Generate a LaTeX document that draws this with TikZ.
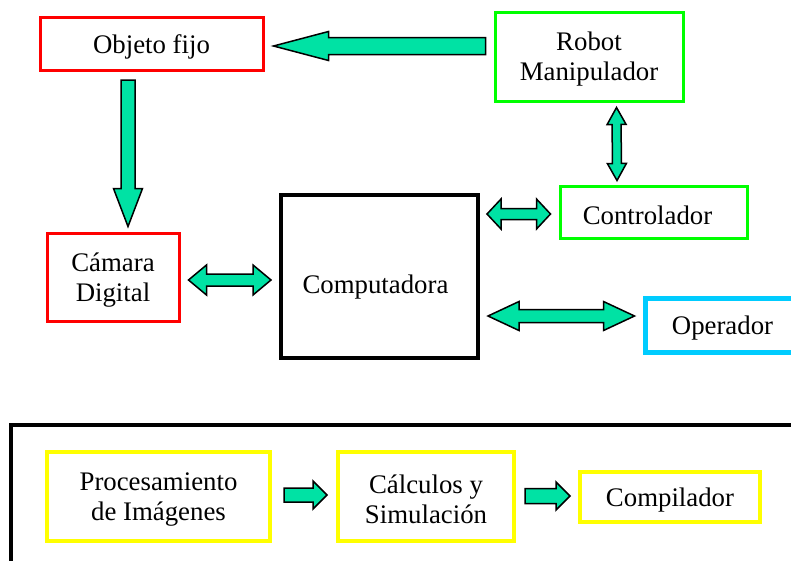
\documentclass[tikz,border=0pt]{standalone}
\usepackage{fontspec}
\setmainfont{Liberation Serif}
\usetikzlibrary{calc}
\definecolor{arrfill}{RGB}{0,226,164}
\definecolor{bred}{RGB}{255,0,0}
\definecolor{bgreen}{RGB}{0,255,0}
\definecolor{bcyan}{RGB}{0,204,255}
\definecolor{byellow}{RGB}{255,255,0}
\tikzset{
  txt/.style={inner sep=0pt, align=center, font=\fontsize{26.8}{30}\selectfont},
  box/.style={draw, rectangle, inner sep=0pt},
  redbox/.style={box, draw=bred, line width=3pt},
  greenbox/.style={box, draw=bgreen, line width=3pt},
  cyanbox/.style={box, draw=bcyan, line width=5pt},
  yellowbox/.style={box, draw=byellow, line width=4pt},
  blackbox/.style={box, draw=black, line width=4pt},
  blk/.style={fill=arrfill, draw=black, line width=1.5pt, line join=miter}
}
% single block arrow: #1 tail, #2 tip, #3 shaft half width, #4 head half width, #5 head length
\newcommand\sblkarrow[5]{%
  \coordinate (hb) at ($(#2)!#5!(#1)$);
  \filldraw[blk] ($(#1)!#3!90:(#2)$) -- ($(hb)!#3!90:(#2)$) -- ($(hb)!#4!90:(#2)$) -- (#2)
    -- ($(hb)!#4!-90:(#2)$) -- ($(hb)!#3!-90:(#2)$) -- ($(#1)!#3!-90:(#2)$) -- cycle;
}
% double block arrow
\newcommand\dblkarrow[5]{%
  \coordinate (ha) at ($(#1)!#5!(#2)$);
  \coordinate (hb) at ($(#2)!#5!(#1)$);
  \filldraw[blk] (#1) -- ($(ha)!#4!90:(#2)$) -- ($(ha)!#3!90:(#2)$) -- ($(hb)!#3!90:(#2)$)
    -- ($(hb)!#4!90:(#2)$) -- (#2) -- ($(hb)!#4!-90:(#2)$) -- ($(hb)!#3!-90:(#2)$)
    -- ($(ha)!#3!-90:(#2)$) -- ($(ha)!#4!-90:(#2)$) -- cycle;
}
\begin{document}
\begin{tikzpicture}[x=1pt,y=-1pt]
\clip (0,0) rectangle (791,560);
\fill[white] (0,0) rectangle (791,560);

% top part
\node[redbox, minimum width=223pt, minimum height=53pt,
  label={[txt,yshift=-3pt]center:Objeto fijo}] (objeto) at (151.5,43.5) {};
\node[greenbox, minimum width=188pt, minimum height=89pt,
  label={[txt,yshift=-3pt]center:{Robot\\Manipulador}}] (robot) at (589,56.5) {};
\node[redbox, minimum width=132pt, minimum height=88pt,
  label={[txt,yshift=-3pt]center:{Cámara\\Digital}}] (camara) at (113,277) {};
\node[blackbox, minimum width=197pt, minimum height=163pt,
  label={[txt,xshift=-4pt,yshift=-11pt]center:Computadora}] (comp) at (379.5,276.5) {};
\node[greenbox, minimum width=187pt, minimum height=52pt,
  label={[txt,xshift=-6pt,yshift=-3pt]center:Controlador}] (contr) at (653.5,212) {};
\node[cyanbox, minimum width=155pt, minimum height=54pt,
  label={[txt,yshift=-3pt]center:Operador}] (oper) at (722.5,325) {};

% bottom part
\draw[black, line width=4pt] (11,425) rectangle (810,580);
\node[yellowbox, minimum width=223pt, minimum height=89pt,
  label={[txt,yshift=-3pt]center:{Procesamiento\\de Imágenes}}] (proc) at (158.5,496.5) {};
\node[yellowbox, minimum width=176pt, minimum height=89pt,
  label={[txt,yshift=-3pt]center:{Cálculos y\\Simulación}}] (calc) at (426,496.5) {};
\node[yellowbox, minimum width=180pt, minimum height=50pt,
  label={[txt,yshift=-3pt]center:Compilador}] (compil) at (670,497) {};

% arrow end points
\coordinate (a1t) at ($(robot.west)+(-8,-10.5)$);
\coordinate (a1h) at ($(objeto.east)+(9,2.5)$);
\coordinate (a2t) at ($(objeto.south)+(-23.5,8.5)$);
\coordinate (a2h) at ($(camara.north)+(15,-5)$);
\coordinate (a3a) at ($(robot.south)+(27.5,5)$);
\coordinate (a3b) at ($(contr.north)+(-36.5,-4)$);
\coordinate (a4a) at ($(camara.east)+(8,3)$);
\coordinate (a4b) at ($(comp.west)+(-8,3.5)$);
\coordinate (a5a) at ($(comp.east)+(7,-62.5)$);
\coordinate (a5b) at ($(contr.west)+(-8,2)$);
\coordinate (a6a) at ($(comp.east)+(8,39.5)$);
\coordinate (a6b) at ($(oper.west)+(-8,-9)$);
\coordinate (a7t) at ($(proc.east)+(12,-1.5)$);
\coordinate (a7h) at ($(calc.west)+(-9,-1.5)$);
\coordinate (a8t) at ($(calc.east)+(9,-0.5)$);
\coordinate (a8h) at ($(compil.west)+(-8,-1)$);

% arrows
\sblkarrow{a1t}{a1h}{8.5pt}{14.5pt}{55pt}
\sblkarrow{a2t}{a2h}{7pt}{14.5pt}{38pt}
\dblkarrow{a3a}{a3b}{4.5pt}{9.5pt}{17pt}
\dblkarrow{a4a}{a4b}{6pt}{15pt}{18pt}
\dblkarrow{a5a}{a5b}{5.5pt}{15pt}{14pt}
\dblkarrow{a6a}{a6b}{6.5pt}{14.5pt}{31pt}
\sblkarrow{a7t}{a7h}{7pt}{14pt}{14pt}
\sblkarrow{a8t}{a8h}{7.5pt}{14pt}{14pt}
\end{tikzpicture}
\end{document}
